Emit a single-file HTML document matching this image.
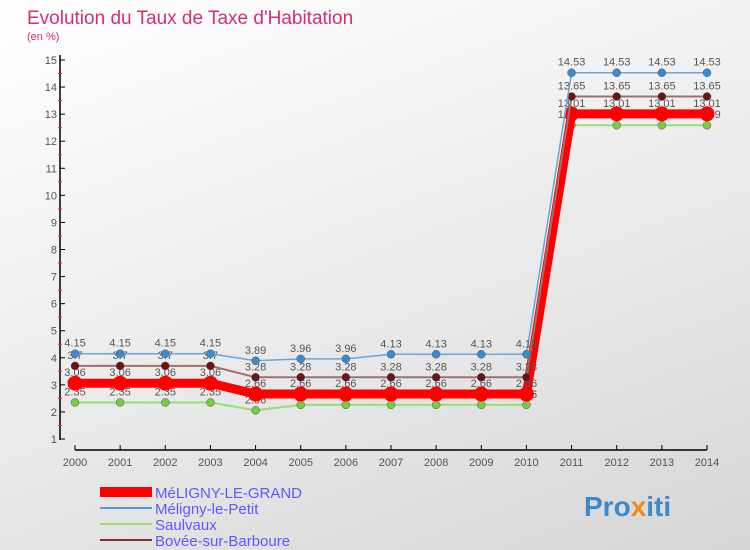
<!DOCTYPE html>
<html><head><meta charset="utf-8">
<style>
body{margin:0;width:750px;height:550px;overflow:hidden;font-family:"Liberation Sans",sans-serif;}
#bg{position:absolute;left:0;top:0;width:750px;height:550px;background:linear-gradient(160deg,#ffffff 0%,#f0f0f0 40%,#d6d6d6 100%);}
</style></head><body>
<div id="bg"></div>
<svg id="c" width="750" height="550" style="position:absolute;left:0;top:0">
<text x="27" y="24" font-size="19" fill="#d0307a">Evolution du Taux de Taxe d'Habitation</text>
<text x="27" y="40" font-size="11" fill="#d0307a">(en %)</text>
<g id="axes"></g><g id="series"></g>
<g>
<rect x="100" y="487" width="52" height="10" fill="#ff0000"/>
<text x="155" y="498" font-size="15" fill="#5a5aff">MéLIGNY-LE-GRAND</text>
<line x1="100" y1="508" x2="152" y2="508" stroke="#5b9bd0" stroke-width="2"/>
<text x="155" y="514" font-size="15" fill="#5a5aff">Méligny-le-Petit</text>
<line x1="100" y1="524" x2="152" y2="524" stroke="#99dd77" stroke-width="2"/>
<text x="155" y="530" font-size="15" fill="#5a5aff">Saulvaux</text>
<line x1="100" y1="540" x2="152" y2="540" stroke="#7a3030" stroke-width="2"/>
<text x="155" y="546" font-size="15" fill="#5a5aff">Bovée-sur-Barboure</text>
</g>
<text x="584" y="516" font-size="28" font-weight="bold" fill="#3a8ad0">Pro<tspan fill="#f08a20">x</tspan>iti</text>
</svg>
<script>
const years=[2000,2001,2002,2003,2004,2005,2006,2007,2008,2009,2010,2011,2012,2013,2014];
const petit=[4.15,4.15,4.15,4.15,3.89,3.96,3.96,4.13,4.13,4.13,4.13,14.53,14.53,14.53,14.53];
const bovee=[3.7,3.7,3.7,3.7,3.28,3.28,3.28,3.28,3.28,3.28,3.28,13.65,13.65,13.65,13.65];
const grand=[3.06,3.06,3.06,3.06,2.66,2.66,2.66,2.66,2.66,2.66,2.66,13.01,13.01,13.01,13.01];
const saul=[2.35,2.35,2.35,2.35,2.06,2.26,2.26,2.26,2.26,2.26,2.26,12.59,12.59,12.59,12.59];
const yTicks=[1,2,3,4,5,6,7,8,9,10,11,12,13,14,15];
const NS='http://www.w3.org/2000/svg';
const X=i=>75+i*(707-75)/(years.length-1);
const Y=v=>439-(v-1)*(439-60)/14;
function mk(t,a,p){const e=document.createElementNS(NS,t);for(const k in a)e.setAttribute(k,a[k]);p.appendChild(e);return e;}
const ax=document.getElementById('axes');
const yl=mk('line',{x1:60,y1:55,x2:60,y2:440,stroke:'#000','stroke-width':1.5},ax);


yTicks.forEach(v=>{
 mk('line',{x1:60,y1:Y(v),x2:65,y2:Y(v),stroke:'#000'},ax);
 if(v<15)mk('line',{x1:58,y1:Y(v+0.5),x2:62,y2:Y(v+0.5),stroke:'#e03030'},ax);
 const t=mk('text',{x:57,y:Y(v)+4,'font-size':11,fill:'#555','text-anchor':'end'},ax);t.textContent=v;
 
 
});
const xl=mk('line',{x1:X(0),y1:450,x2:X(14),y2:450,stroke:'#000','stroke-width':1.5},ax);


years.forEach((y,i)=>{
 mk('line',{x1:X(i),y1:445,x2:X(i),y2:450,stroke:'#000'},ax);
 const t=mk('text',{x:X(i),y:466,'font-size':11,fill:'#555','text-anchor':'middle'},ax);t.textContent=y;
 
 
});
const sg=document.getElementById('series');
function draw(vals,color,w,r,name,dot){
 const g=mk('g',{},sg);
 
 
 mk('polyline',{points:vals.map((v,i)=>X(i)+','+Y(v)).join(' '),fill:'none',stroke:color,'stroke-width':w},g);
 vals.forEach((v,i)=>{
  const c=mk('circle',{cx:X(i),cy:Y(v),r:r,fill:dot,stroke:'#555','stroke-width':r>6?0:0.5},g);
  
  
  const t=mk('text',{x:X(i),y:Y(v)-7,'font-size':11,fill:'#555','text-anchor':'middle'},g);t.textContent=v;
 });
}
draw(saul,'#99dd77',2,4,'saulvaux','#77cc44');
draw(grand,'#ff0000',9,7.5,'meligny-le-grand','#ff0000');
draw(bovee,'#a07070',2,4,'bovee-sur-barboure','#6a1515');
draw(petit,'#6aa6d8',1.5,4,'meligny-le-petit','#3a8ad0');
</script>
</body></html>
